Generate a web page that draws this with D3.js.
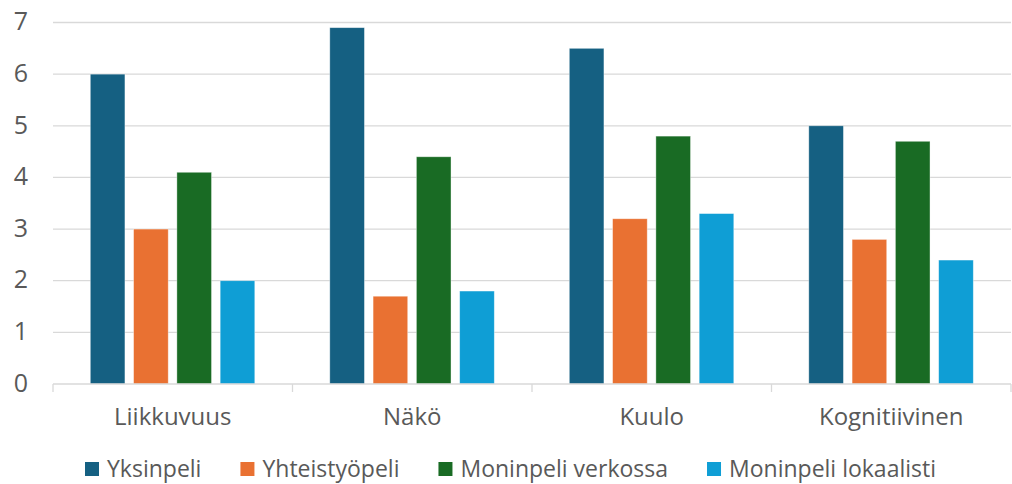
<!DOCTYPE html>
<html><head><meta charset="utf-8">
<script src="https://cdn.jsdelivr.net/npm/d3@7"></script>
<style>body{margin:0;background:#fff}svg{display:block}text{font-family:"Open Sans","Noto Sans",sans-serif;fill:#595959}</style>
</head><body><svg id="c" width="1012" height="484"></svg>
<script>
const categories = ["Liikkuvuus", "Näkö", "Kuulo", "Kognitiivinen"];
const seriesNames = ["Yksinpeli", "Yhteistyöpeli", "Moninpeli verkossa", "Moninpeli lokaalisti"];
const yksinpeli = [6, 6.9, 6.5, 5];
const yhteistyopeli = [3, 1.7, 3.2, 2.8];
const moninpeliVerkossa = [4.1, 4.4, 4.8, 4.7];
const moninpeliLokaalisti = [2, 1.8, 3.3, 2.4];
const yTicks = [0, 1, 2, 3, 4, 5, 6, 7];
const colors = ["#156082", "#E97132", "#196B24", "#0F9ED5"];
const seriesValues = [yksinpeli, yhteistyopeli, moninpeliVerkossa, moninpeliLokaalisti];

const svg = d3.select("#c");
const mLeft = 53, mRight = 1011, mTop = 22.5, mBottom = 384;
const x0 = d3.scaleBand().domain(categories).range([mLeft, mRight]).paddingInner(0).paddingOuter(0);
const x1 = d3.scaleBand().domain(seriesNames).range([37.3, 201.8]).paddingInner(0.2).paddingOuter(0);
const y = d3.scaleLinear().domain([0, 7]).range([mBottom, mTop]);

// gridlines
svg.append("g").selectAll("line").data(yTicks.filter(d => d > 0)).join("line")
  .attr("x1", mLeft).attr("x2", mRight).attr("y1", d => y(d)).attr("y2", d => y(d))
  .attr("stroke", "#d9d9d9").attr("stroke-width", 1.3);

// y labels
svg.append("g").selectAll("text").data(yTicks).join("text")
  .attr("x", 28).attr("y", d => y(d)).attr("dy", "0.31em").attr("text-anchor", "end")
  .style("font-size", "25px").text(d => d);

// bars
const g = svg.append("g");
categories.forEach((c, ci) => {
  seriesNames.forEach((s, si) => {
    const v = seriesValues[si][ci];
    g.append("rect")
      .attr("x", x0(c) + x1(s)).attr("width", x1.bandwidth())
      .attr("y", y(v)).attr("height", y(0) - y(v))
      .attr("fill", colors[si]).attr("stroke", "#ffffff").attr("stroke-opacity", 0.5).attr("stroke-width", 0.75);
  });
});

// x axis
const xAxis = svg.append("g");
xAxis.append("line").attr("x1", mLeft).attr("x2", mRight).attr("y1", mBottom).attr("y2", mBottom)
  .attr("stroke", "#d9d9d9").attr("stroke-width", 1.3);
const tickPos = categories.map(c => x0(c)).concat([mRight]);
xAxis.selectAll("line.t").data(tickPos).join("line").attr("class", "t")
  .attr("x1", d => d).attr("x2", d => d).attr("y1", mBottom).attr("y2", mBottom + 8)
  .attr("stroke", "#d9d9d9").attr("stroke-width", 1.3);
xAxis.selectAll("text").data(categories).join("text")
  .attr("x", d => x0(d) + x0.bandwidth() / 2).attr("y", 417).attr("dy", "0.35em")
  .attr("text-anchor", "middle").style("font-size", "24px").text(d => d);

// legend
const leg = svg.append("g");
const items = leg.selectAll("g").data(seriesNames).join("g");
items.append("rect").attr("width", 14).attr("height", 14).attr("y", 462).attr("fill", (d, i) => colors[i]);
items.append("text").attr("x", 22).attr("y", 469).attr("dy", "0.35em").style("font-size", "23px").text(d => d);
let widths = [];
items.each(function () { widths.push(d3.select(this).select("text").node().getComputedTextLength()); });
const legStart = 85, legEnd = 936;
const gap = (legEnd - legStart - widths.reduce((a, w) => a + 22 + w, 0)) / (widths.length - 1);
let cx = legStart;
items.each(function (d, i) { d3.select(this).attr("transform", `translate(${cx},0)`); cx += 22 + widths[i] + gap; });
</script></body></html>
